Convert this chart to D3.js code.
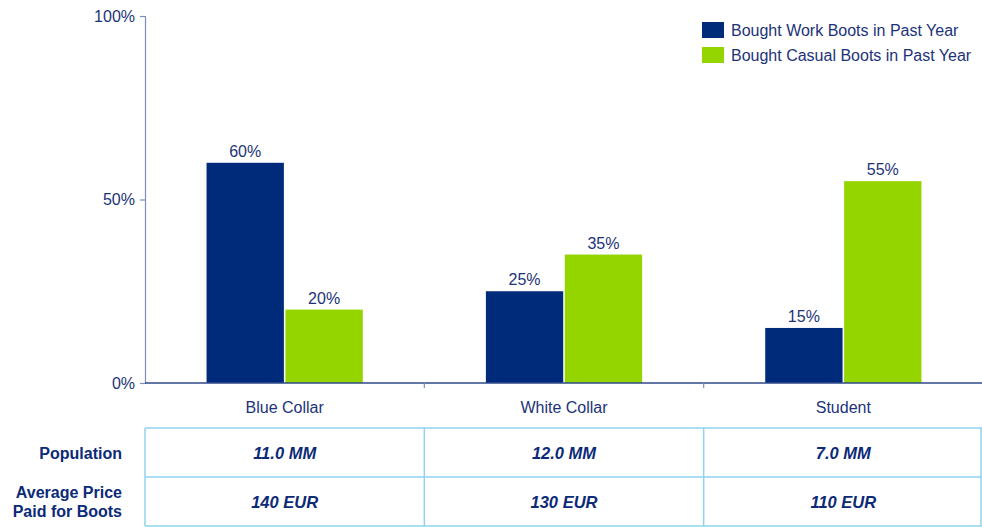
<!DOCTYPE html>
<html>
<head>
<meta charset="utf-8">
<script src="https://cdn.jsdelivr.net/npm/d3@7"></script>
<style>
body { margin: 0; background: #fff; }
svg { display: block; font-family: "Liberation Sans", Arial, sans-serif; }
</style>
</head>
<body>
<svg id="chart" width="982" height="527"></svg>
<script>
var categories = ["Blue Collar", "White Collar", "Student"];
var seriesNames = ["Bought Work Boots in Past Year", "Bought Casual Boots in Past Year"];
var workBoots = [60, 25, 15];
var casualBoots = [20, 35, 55];
var yTicks = [0, 50, 100];
var rowLabels = [["Population"], ["Average Price", "Paid for Boots"]];
var population = ["11.0 MM", "12.0 MM", "7.0 MM"];
var avgPrice = ["140 EUR", "130 EUR", "110 EUR"];

var colors = ["#002a7a", "#94d500"];
var textColor = "#1c3378";
var fs = 16;

var svg = d3.select("#chart");
var mLeft = 145, mRight = 983, mTop = 16, mBottom = 383;

var x = d3.scaleBand().domain(categories).range([mLeft, mRight]);
var xs = d3.scaleBand().domain([0, 1]).range([0, x.bandwidth()]).paddingOuter(0.78).paddingInner(0.02);
var y = d3.scaleLinear().domain([0, 100]).range([mBottom, mTop]);

// axe y
var yAxis = svg.append("g").attr("transform", "translate(" + mLeft + ",0)")
	.call(d3.axisLeft(y).tickValues(yTicks).tickSize(5).tickFormat(function(d) { return d + "%"; }));
yAxis.selectAll("path, line").attr("stroke", "#7a8fbf").attr("stroke-width", 1.2);
yAxis.selectAll("text").attr("fill", textColor).attr("font-size", fs)
	.attr("font-family", "Liberation Sans, Arial, sans-serif").attr("dx", -2);

// barre
var data = [];
categories.forEach(function(c, i) {
	data.push({ cat: c, s: 0, v: workBoots[i] });
	data.push({ cat: c, s: 1, v: casualBoots[i] });
});

svg.selectAll(".bar").data(data).enter().append("rect")
	.attr("class", "bar")
	.attr("x", function(d) { return x(d.cat) + xs(d.s); })
	.attr("width", xs.bandwidth())
	.attr("y", function(d) { return y(d.v); })
	.attr("height", function(d) { return mBottom - y(d.v); })
	.attr("fill", function(d) { return colors[d.s]; });

svg.selectAll(".val").data(data).enter().append("text")
	.attr("x", function(d) { return x(d.cat) + xs(d.s) + xs.bandwidth() / 2; })
	.attr("y", function(d) { return y(d.v) - 6; })
	.attr("text-anchor", "middle")
	.attr("font-size", fs)
	.attr("fill", textColor)
	.text(function(d) { return d.v + "%"; });

// axe x
svg.append("line").attr("x1", mLeft).attr("x2", mRight).attr("y1", mBottom).attr("y2", mBottom)
	.attr("stroke", "#2f4a8a").attr("stroke-width", 1.5);
svg.selectAll(".xtick").data(categories.slice(1)).enter().append("line")
	.attr("x1", function(d) { return x(d); }).attr("x2", function(d) { return x(d); })
	.attr("y1", mBottom).attr("y2", mBottom + 5)
	.attr("stroke", "#7a8fbf").attr("stroke-width", 1.2);
svg.selectAll(".xlab").data(categories).enter().append("text")
	.attr("x", function(d) { return x(d) + x.bandwidth() / 2; })
	.attr("y", 413)
	.attr("text-anchor", "middle")
	.attr("font-size", fs)
	.attr("fill", textColor)
	.text(function(d) { return d; });

// legenda
var legend = svg.selectAll(".leg").data(seriesNames).enter().append("g")
	.attr("transform", function(d, i) { return "translate(702," + (22 + i * 25) + ")"; });
legend.append("rect").attr("width", 22).attr("height", 16).attr("fill", function(d, i) { return colors[i]; });
legend.append("text").attr("x", 29).attr("y", 14).attr("font-size", fs).attr("fill", textColor)
	.text(function(d) { return d; });

// tabella sotto
var rowY = [428, 477, 526];
var tableRows = [population, avgPrice];
var grid = svg.append("g").attr("stroke", "#8fd3ee").attr("stroke-width", 1.5);
rowY.forEach(function(ry) {
	grid.append("line").attr("x1", mLeft).attr("x2", 982).attr("y1", ry).attr("y2", ry);
});
categories.forEach(function(c) {
	grid.append("line").attr("x1", x(c)).attr("x2", x(c)).attr("y1", rowY[0]).attr("y2", rowY[2]);
});
grid.append("line").attr("x1", 981).attr("x2", 981).attr("y1", rowY[0]).attr("y2", rowY[2]);

tableRows.forEach(function(vals, r) {
	var cy = (rowY[r] + rowY[r + 1]) / 2;
	svg.selectAll(".cell" + r).data(vals).enter().append("text")
		.attr("x", function(d, i) { return x(categories[i]) + x.bandwidth() / 2; })
		.attr("y", cy + 6)
		.attr("text-anchor", "middle")
		.attr("font-size", 16.5)
		.attr("font-weight", "bold")
		.attr("font-style", "italic")
		.attr("fill", "#0b2a78")
		.text(function(d) { return d; });
	var lab = svg.append("text").attr("text-anchor", "end").attr("font-size", fs)
		.attr("font-weight", "bold").attr("fill", "#0b2a78");
	var lines = rowLabels[r];
	lines.forEach(function(t, k) {
		lab.append("tspan").attr("x", 122)
			.attr("y", cy + 6 + (k - (lines.length - 1) / 2) * 19)
			.text(t);
	});
});
</script>
</body>
</html>
